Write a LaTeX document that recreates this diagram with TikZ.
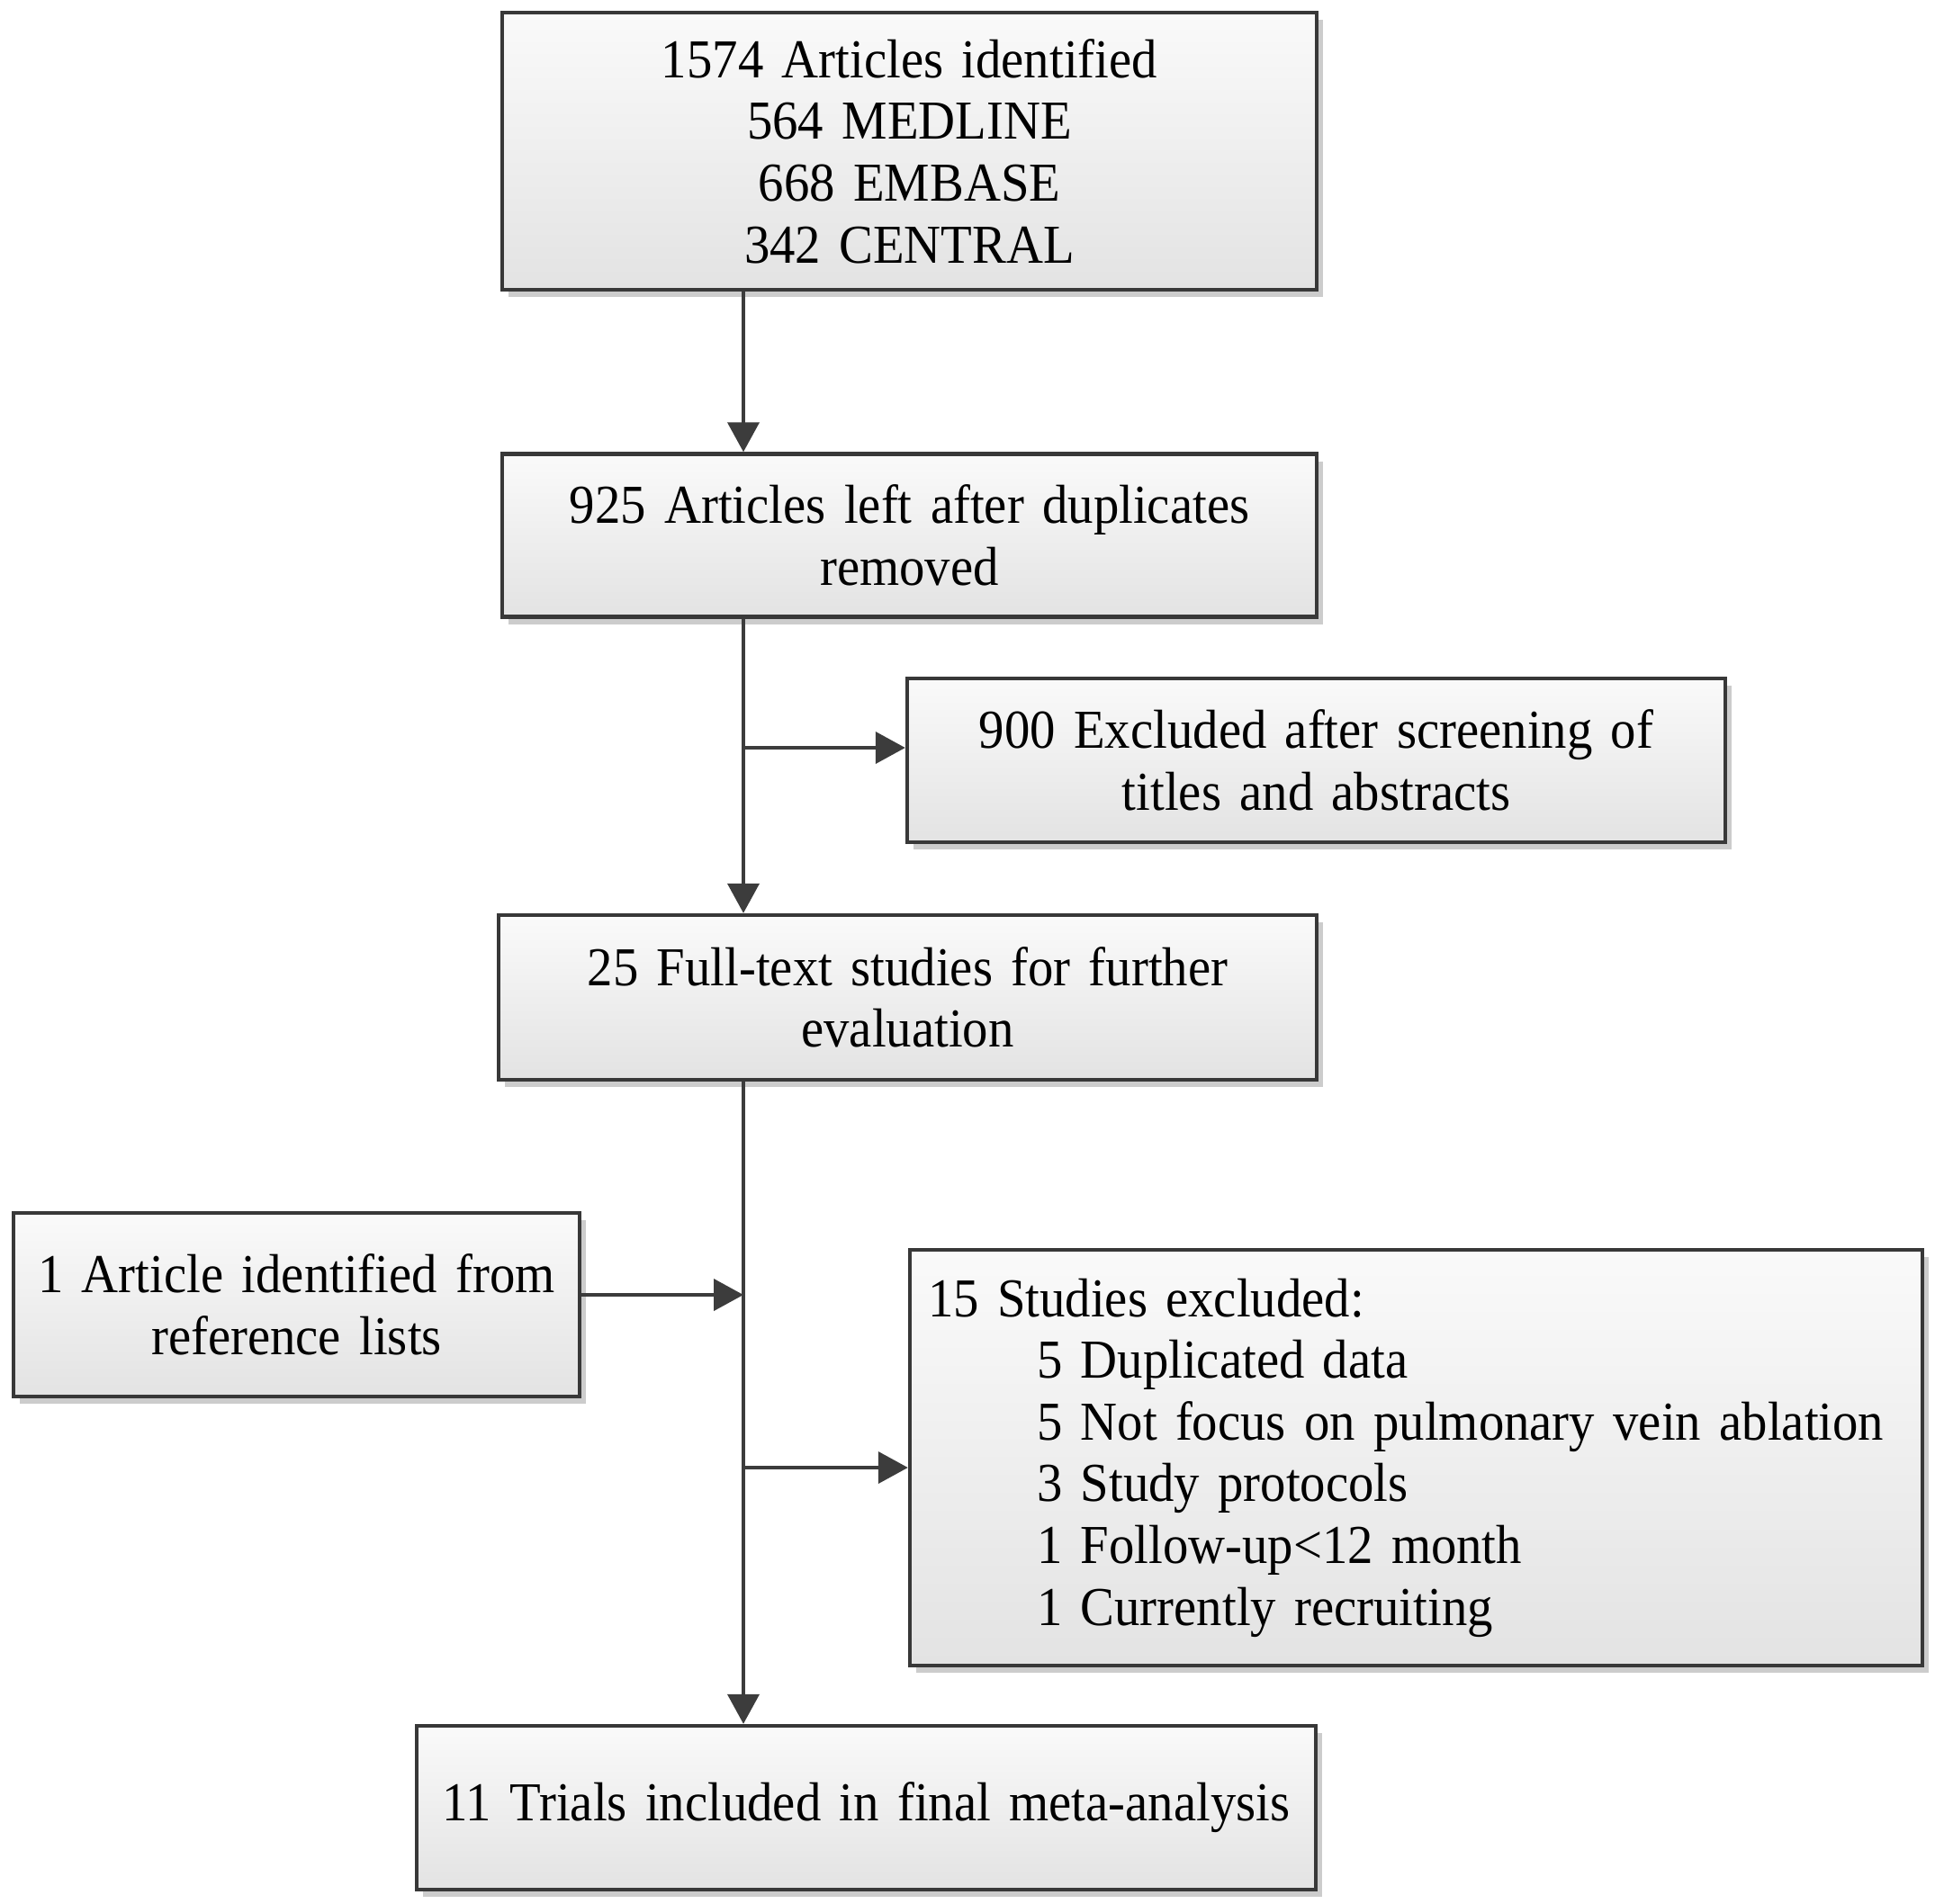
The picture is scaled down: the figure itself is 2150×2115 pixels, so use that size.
\documentclass[tikz,border=0pt]{standalone}
\usepackage{fontspec}
\setmainfont[FakeStretch=0.93]{Liberation Serif}
\usetikzlibrary{arrows.meta,shadows}
\definecolor{boxline}{HTML}{383838}
\definecolor{arrline}{HTML}{3C3C3C}
\begin{document}
\begin{tikzpicture}[x=0.5pt,y=-0.5pt,
  box/.style={draw=boxline, line width=2.2pt, top color=black!2, bottom color=black!11,
    drop shadow={shadow xshift=3.5pt, shadow yshift=-4pt, fill=black!20, opacity=1},
    inner sep=0pt, align=center, font=\fontsize{30.5}{34.3}\selectfont},
  arr/.style={draw=arrline, line width=2pt, -{Triangle[length=16.5pt,width=17.5pt]}},
]
\useasboundingbox (0,0) rectangle (2150,2115);

\node[box, minimum width=452.5pt, minimum height=154pt, text width=440pt] (b1) at (1010.5,168)
  {1574 Articles identified\\564 MEDLINE\\668 EMBASE\\342 CENTRAL};
\node[box, minimum width=452.5pt, minimum height=90.5pt, text width=440pt] (b2) at (1010.5,595)
  {925 Articles left after duplicates\\removed};
\node[box, minimum width=454.5pt, minimum height=91pt, text width=440pt] (b3) at (1462.5,845)
  {900 Excluded after screening of\\titles and abstracts};
\node[box, minimum width=454.5pt, minimum height=91.5pt, text width=440pt] (b4) at (1008.5,1108.5)
  {25 Full-text studies for further\\evaluation};
\node[box, minimum width=314.5pt, minimum height=102pt, text width=305pt] (b5) at (329.5,1450)
  {1 Article identified from\\reference lists};
\node[box, minimum width=562.5pt, minimum height=231pt, text width=547pt, inner xsep=7.75pt, align=left] (b6) at (1573.5,1620)
  {\hspace*{2.25pt}15 Studies excluded:\\
   \hspace*{62.75pt}5 Duplicated data\\
   \hspace*{62.75pt}5 Not focus on pulmonary vein ablation\\
   \hspace*{62.75pt}3 Study protocols\\
   \hspace*{62.75pt}1 Follow-up<12 month\\
   \hspace*{62.75pt}1 Currently recruiting};
\node[box, minimum width=499.5pt, minimum height=91pt, text width=490pt] (b7) at (962.5,2009)
  {11 Trials included in final meta-analysis};

\coordinate (sp) at (826,0);
\coordinate (j3) at (826,831);
\coordinate (j5) at (826,1439);
\coordinate (j6) at (826,1631);

\draw[arr] (b1.south -| sp) -- (b2.north -| sp);
\draw[arr] (b2.south -| sp) -- (b4.north -| sp);
\draw[arr] (j3) -- (j3 -| b3.west);
\draw[arr] (b4.south -| sp) -- (b7.north -| sp);
\draw[arr] (j5 -| b5.east) -- (j5);
\draw[arr] (j6) -- (j6 -| b6.west);
\end{tikzpicture}
\end{document}
